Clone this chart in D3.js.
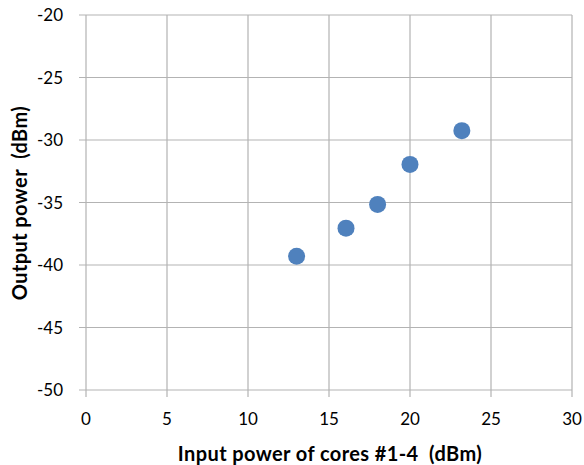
<!DOCTYPE html>
<head>
  <meta charset="utf-8">
  <style>
    body { margin: 0; background: #fff; }
    text { font-family: Lato, "Open Sans", sans-serif; fill: #000; white-space: pre; }
  </style>
</head>
<body>
  <script src="https://cdnjs.cloudflare.com/ajax/libs/d3/7.8.5/d3.min.js"></script>
  <script>
  const inputPower = [13.0, 16.05, 18.0, 20.0, 23.2]
  const outputPower = [-39.3, -37.05, -35.15, -31.95, -29.25]
  const xTicks = [0, 5, 10, 15, 20, 25, 30]
  const yTicks = [-50, -45, -40, -35, -30, -25, -20]

  const width = 584, height = 465
  const margin = {left: 86, right: 12, top: 15, bottom: 75}

  const svg = d3.select('body').append('svg')
    .attr('width', width)
    .attr('height', height)

  const x = d3.scaleLinear().domain([0, 30]).range([margin.left, width - margin.right])
  const y = d3.scaleLinear().domain([-50, -20]).range([height - margin.bottom, margin.top])

  const grid = '#b3b3b3'

  // grid lines
  svg.append('g').selectAll('line')
    .data(xTicks).enter().append('line')
    .attr('x1', d => x(d)).attr('x2', d => x(d))
    .attr('y1', y(-20)).attr('y2', y(-50) + 7)
    .attr('stroke', grid).attr('stroke-width', 1.2)

  svg.append('g').selectAll('line')
    .data(yTicks).enter().append('line')
    .attr('x1', x(0) - 7).attr('x2', x(30))
    .attr('y1', d => y(d)).attr('y2', d => y(d))
    .attr('stroke', grid).attr('stroke-width', 1.2)

  // tick labels
  svg.append('g').selectAll('text')
    .data(yTicks).enter().append('text')
    .attr('x', x(0) - 23)
    .attr('y', d => y(d) + 6)
    .attr('text-anchor', 'end')
    .style('font-size', '17px')
    .text(d => d)

  svg.append('g').selectAll('text')
    .data(xTicks).enter().append('text')
    .attr('x', d => x(d))
    .attr('y', y(-50) + 35)
    .attr('text-anchor', 'middle')
    .style('font-size', '17px')
    .text(d => d)

  // points
  svg.append('g').selectAll('circle')
    .data(inputPower).enter().append('circle')
    .attr('cx', d => x(d))
    .attr('cy', (d, i) => y(outputPower[i]))
    .attr('r', 8.5)
    .attr('fill', '#4f81bd')

  // axis titles
  svg.append('text')
    .attr('x', 330).attr('y', 461)
    .attr('text-anchor', 'middle')
    .style('font-size', '20px').style('font-weight', 'bold')
    .style('letter-spacing', '0.4px')
    .text('Input power of cores #1-4  (dBm)')

  svg.append('text')
    .attr('transform', 'translate(27,203) rotate(-90)')
    .attr('text-anchor', 'middle')
    .style('font-size', '20px').style('font-weight', 'bold')
    .style('letter-spacing', '0.4px')
    .text('Output power  (dBm)')
  </script>
</body>
</html>
